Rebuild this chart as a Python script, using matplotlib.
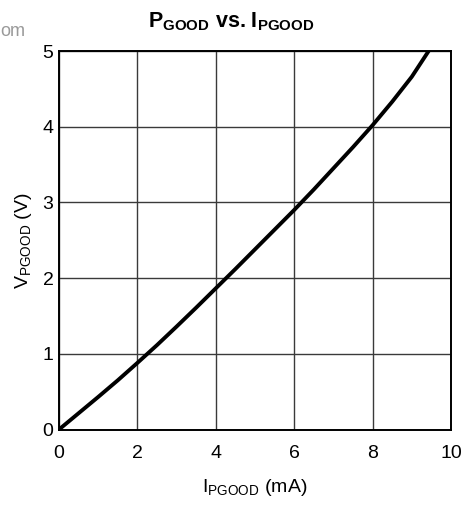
import numpy as np
import matplotlib
matplotlib.use('Agg')
import matplotlib.pyplot as plt

plt.rcParams['font.family'] = ['Liberation Sans', 'DejaVu Sans']
plt.rcParams['mathtext.fontset'] = 'custom'
plt.rcParams['mathtext.rm'] = 'Liberation Sans'
plt.rcParams['mathtext.it'] = 'Liberation Sans'
plt.rcParams['mathtext.bf'] = 'Liberation Sans:bold'

# curve
i_pgood = [0, 0.5, 1, 1.5, 2, 2.5, 3, 3.5, 4, 4.5, 5, 5.5, 6, 6.5, 7, 7.5, 8, 8.5, 9, 9.43]
v_pgood = [0, 0.215, 0.43, 0.65, 0.88, 1.115, 1.36, 1.61, 1.865, 2.12, 2.38, 2.64,
           2.9, 3.17, 3.45, 3.73, 4.02, 4.33, 4.66, 5.0]
x_ticks = [0, 2, 4, 6, 8, 10]
y_ticks = [0, 1, 2, 3, 4, 5]

fig = plt.figure(figsize=(4.67, 5.05), dpi=100)
W, H = 467, 505
ax = fig.add_axes([59 / W, 1 - 429.5 / H, (451 - 59) / W, (429.5 - 51) / H])

ax.plot(i_pgood, v_pgood, color='black', lw=2.8, solid_capstyle='butt',
        solid_joinstyle='round', zorder=3)

ax.set_xlim(0, 10)
ax.set_ylim(0, 5)
ax.set_xticks(x_ticks)
ax.set_yticks(y_ticks)
ax.grid(True, color='#3a3a3a', lw=1.0)
ax.tick_params(axis='x', length=0, labelsize=14, pad=11, colors='black')
ax.tick_params(axis='y', length=0, labelsize=14, pad=4, colors='black')
for s in ax.spines.values():
    s.set_linewidth(1.4)
    s.set_color('black')

ax.set_xlabel('I$_{\\mathrm{PGOOD}}$ (mA)', fontsize=14, labelpad=11)
ax.set_ylabel('V$_{\\mathrm{PGOOD}}$ (V)', fontsize=14, labelpad=6)
ttl = ax.set_title('P$_{\\mathbf{GOOD}}$ vs. I$_{\\mathbf{PGOOD}}$', fontsize=15.5,
                   fontweight='bold', pad=17)
ttl.set_x(0.44)  # title sits a bit left of centre in the original

# partial watermark in the corner
fig.text(0, 1 - 32 / H, 'om', color='#9a9a9a', fontsize=13, ha='left', va='center')

fig.savefig('out.png', dpi=100)
